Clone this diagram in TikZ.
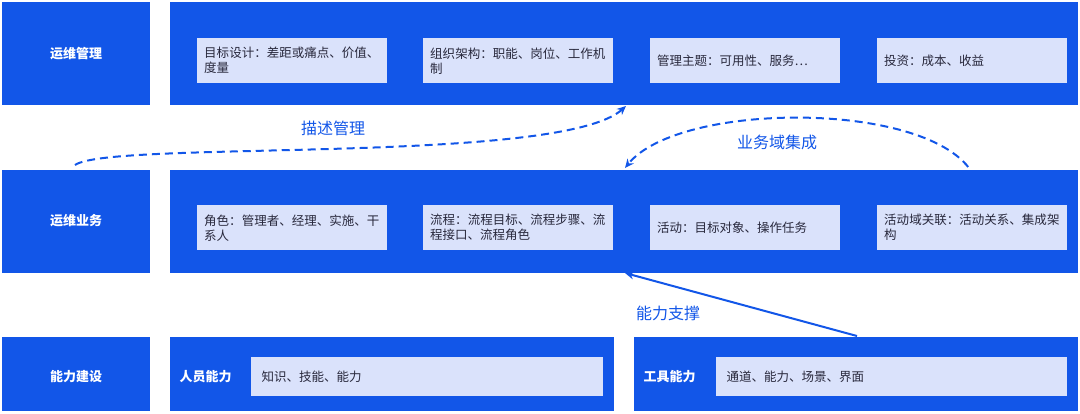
\documentclass[tikz,border=0pt]{standalone}
\usepackage{fontspec}
\setmainfont{Noto Sans CJK SC}
\XeTeXlinebreaklocale "zh"
\XeTeXlinebreakskip=0pt plus 1pt
\usetikzlibrary{arrows.meta}
\definecolor{bl}{RGB}{18,86,232}
\definecolor{lt}{RGB}{218,226,251}
\definecolor{tx}{RGB}{40,40,60}
\begin{document}
\begin{tikzpicture}[x=1pt,y=-1pt,
 hd/.style={text=white,font=\fontsize{13}{15}\selectfont\bfseries},
 inbox/.style={fill=lt,draw=none,anchor=north west,minimum width=190pt,minimum height=45pt,text width=176pt,align=left,inner xsep=7pt,inner ysep=3pt,text=tx,font=\fontsize{12.5}{15}\selectfont},
 lab/.style={text=bl,font=\fontsize{16}{19}\selectfont},
 arr/.style={bl,line width=2pt,-{Stealth[length=9pt,width=8pt]}}]
\useasboundingbox (0,0) rectangle (1080,413);
% left column
\fill[bl] (2,2) rectangle (150,105); \node[hd] (h1) at (76,54) {运维管理};
\fill[bl] (2,170) rectangle (150,273); \node[hd] (h2) at (76,221) {运维业务};
\fill[bl] (2,337) rectangle (150,411); \node[hd] (h3) at (76,377) {能力建设};
% big boxes
\fill[bl] (170,2) rectangle (1078,105);
\fill[bl] (170,170) rectangle (1078,273);
\fill[bl] (170,337) rectangle (614,411);
\fill[bl] (634,337) rectangle (1078,411);
% row1
\node[inbox] (a1) at (197,38) {目标设计：差距或痛点、价值、度量};
\node[inbox] (a2) at (423,38) {组织架构：职能、岗位、工作机制};
\node[inbox] (a3) at (650,38) {管理主题：可用性、服务…};
\node[inbox] (a4) at (877,38) {投资：成本、收益};
% row2
\node[inbox] (b1) at (197,205) {角色：管理者、经理、实施、干系人};
\node[inbox] (b2) at (423,205) {流程：流程目标、流程步骤、流程接口、流程角色};
\node[inbox] (b3) at (650,205) {活动：目标对象、操作任务};
\node[inbox] (b4) at (877,205) {活动域关联：活动关系、集成架构};
% row3
\node[hd,anchor=west] (c0) at (176,377) {人员能力};
\fill[lt] (251,357) rectangle (603,396);
\node[anchor=west,text=tx,font=\fontsize{12.5}{15}\selectfont] (c1) at (258,377) {知识、技能、能力};
\node[hd,anchor=west] (d0) at (640,377) {工具能力};
\fill[lt] (716,357) rectangle (1067,396);
\node[anchor=west,text=tx,font=\fontsize{12.5}{15}\selectfont] (d1) at (723,377) {通道、能力、场景、界面};
% connectors
\coordinate (p1) at (75,165); \coordinate (q1) at (626,106);
\draw[arr,dash pattern=on 8pt off 5pt] (p1) .. controls (110,140) and (560,165) .. (q1);
\node[lab] (l1) at (333,128) {描述管理};
\coordinate (p2) at (975,178); \coordinate (q2) at (625,168);
\draw[arr,dash pattern=on 8pt off 5pt] (p2) .. controls (940,100) and (680,100) .. (q2);
\node[lab] (l2) at (777,142) {业务域集成};
\coordinate (p3) at (857,336); \coordinate (q3) at (625,273);
\draw[arr] (p3) -- (q3);
\node[lab] (l3) at (668,313) {能力支撑};
\end{tikzpicture}
\end{document}
